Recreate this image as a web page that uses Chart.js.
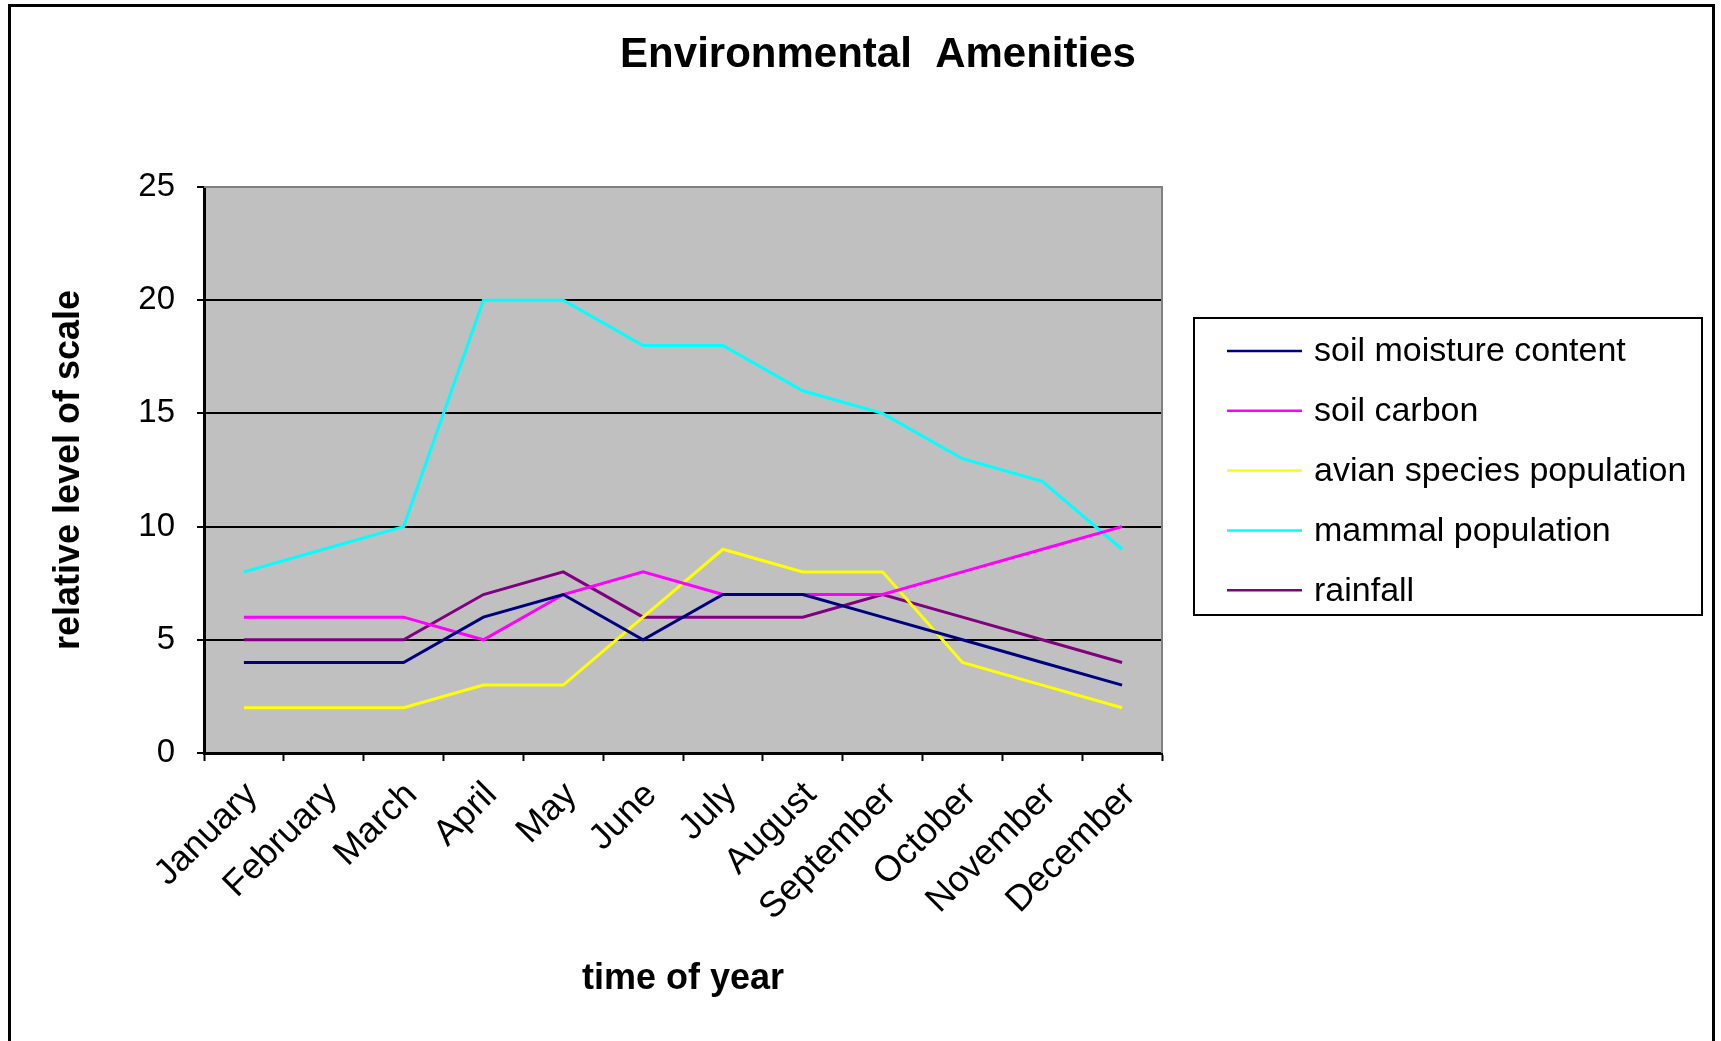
<!DOCTYPE html>
<html>
<head>
<meta charset="utf-8">
<title>Environmental Amenities</title>
<script src="https://cdn.jsdelivr.net/npm/chart.js@4/dist/chart.umd.min.js"></script>
<style>
  html, body { margin: 0; padding: 0; background: #ffffff; }
  #wrap { width: 1721px; height: 1041px; position: relative; }
  canvas { display: block; }
</style>
</head>
<body>
<div id="wrap"><canvas id="chart" width="1721" height="1041"></canvas></div>
<script>
// Months along the x axis
const months = ['January', 'February', 'March', 'April', 'May', 'June',
  'July', 'August', 'September', 'October', 'November', 'December'];

// Relative levels per month
const soilMoisture = [4, 4, 4, 6, 7, 5, 7, 7, 6, 5, 4, 3];
const soilCarbon   = [6, 6, 6, 5, 7, 8, 7, 7, 7, 8, 9, 10];
const avianSpecies = [2, 2, 2, 3, 3, 6, 9, 8, 8, 4, 3, 2];
const mammals      = [8, 9, 10, 20, 20, 18, 18, 16, 15, 13, 12, 9];
const rainfall     = [5, 5, 5, 7, 8, 6, 6, 6, 7, 6, 5, 4];

const seriesNames = ['soil moisture content', 'soil carbon', 'avian species population',
  'mammal population', 'rainfall'];
const seriesColors = ['#000080', '#FF00FF', '#FFFF00', '#00FFFF', '#800080'];
const seriesValues = [soilMoisture, soilCarbon, avianSpecies, mammals, rainfall];

const chartTitle = 'Environmental  Amenities';

const FONT = "'Liberation Sans', Arial, sans-serif";

// Grey plot background, grey top/right frame, page title, outer border and boxed legend
const framePlugin = {
  id: 'frame',
  beforeDraw(chart) {
    const {ctx, chartArea: a} = chart;
    ctx.save();
    ctx.fillStyle = '#ffffff';
    ctx.fillRect(0, 0, chart.width, chart.height);
    ctx.fillStyle = '#C0C0C0';
    ctx.fillRect(a.left, a.top, a.right - a.left, a.bottom - a.top);
    ctx.restore();
  },
  beforeDatasetsDraw(chart) {
    const {ctx, chartArea: a} = chart;
    ctx.save();
    ctx.strokeStyle = '#808080';
    ctx.lineWidth = 2;
    ctx.beginPath();
    ctx.moveTo(a.left, a.top);
    ctx.lineTo(a.right, a.top);
    ctx.lineTo(a.right, a.bottom);
    ctx.stroke();
    ctx.restore();
  },
  afterDraw(chart) {
    const ctx = chart.ctx;
    ctx.save();
    // title, centred on the whole chart
    ctx.fillStyle = '#000000';
    ctx.font = 'bold 42px ' + FONT;
    ctx.textAlign = 'center';
    ctx.textBaseline = 'middle';
    ctx.fillText(chartTitle, 878, 55);

    // outer border
    ctx.strokeStyle = '#000000';
    ctx.lineWidth = 3;
    ctx.beginPath();
    ctx.moveTo(9.5, chart.height + 5);
    ctx.lineTo(9.5, 5.5);
    ctx.lineTo(1713.5, 5.5);
    ctx.lineTo(1713.5, chart.height + 5);
    ctx.stroke();

    // legend box
    const box = {x: 1194, y: 318, w: 508, h: 297};
    ctx.lineWidth = 2;
    ctx.strokeRect(box.x, box.y, box.w, box.h);
    ctx.font = '34px ' + FONT;
    ctx.textBaseline = 'middle';
    ctx.textAlign = 'left';
    chart.data.datasets.forEach((ds, i) => {
      const cy = 351 + i * 59.8;
      ctx.strokeStyle = ds.borderColor;
      ctx.lineWidth = 2.5;
      ctx.beginPath();
      ctx.moveTo(1227, cy);
      ctx.lineTo(1302, cy);
      ctx.stroke();
      ctx.fillStyle = '#000000';
      ctx.fillText(ds.label, 1314, cy + 1);
    });
    ctx.restore();
  }
};

new Chart(document.getElementById('chart'), {
  type: 'line',
  data: {
    labels: months,
    datasets: seriesValues.map((vals, i) => ({
      label: seriesNames[i],
      data: vals,
      borderColor: seriesColors[i],
      backgroundColor: seriesColors[i],
      borderWidth: 3,
      pointRadius: 0,
      tension: 0,
      fill: false
    }))
  },
  options: {
    responsive: false,
    animation: false,
    devicePixelRatio: 1,
    layout: { padding: { left: 0, top: 187, right: 559, bottom: 0 } },
    plugins: {
      legend: { display: false },
      tooltip: { enabled: false },
      title: { display: false }
    },
    scales: {
      x: {
        type: 'category',
        offset: true,
        afterFit(scale) { scale.height = 288; },
        grid: {
          offset: true,
          drawOnChartArea: false,
          drawTicks: true,
          tickLength: 8,
          tickColor: '#000000',
          tickWidth: 2
        },
        border: { display: true, color: '#000000', width: 3 },
        ticks: {
          color: '#000000',
          font: { family: FONT, size: 36 },
          maxRotation: 45,
          minRotation: 45,
          autoSkip: false,
          labelOffset: 8,
          padding: 13
        },
        title: {
          display: true,
          text: 'time of year',
          color: '#000000',
          font: { family: FONT, size: 36, weight: 'bold', lineHeight: 1.2 },
          padding: { top: 4, bottom: 40 }
        }
      },
      y: {
        min: 0,
        max: 25,
        afterFit(scale) { scale.width = 204; },
        grid: {
          color(ctx) {
            const v = ctx.tick ? ctx.tick.value : null;
            return (v === 0 || v === 25) ? 'rgba(0,0,0,0)' : '#000000';
          },
          lineWidth: 2,
          drawTicks: true,
          tickLength: 7,
          tickColor: '#000000',
          tickWidth: 2
        },
        border: { display: true, color: '#000000', width: 3 },
        ticks: {
          stepSize: 5,
          color: '#000000',
          font: { family: FONT, size: 33 },
          padding: 22
        },
        title: {
          display: true,
          text: 'relative level of scale',
          color: '#000000',
          font: { family: FONT, size: 36, weight: 'bold', lineHeight: 1.2 },
          padding: { top: 47, bottom: 0 }
        }
      }
    }
  },
  plugins: [framePlugin]
});
</script>
</body>
</html>
